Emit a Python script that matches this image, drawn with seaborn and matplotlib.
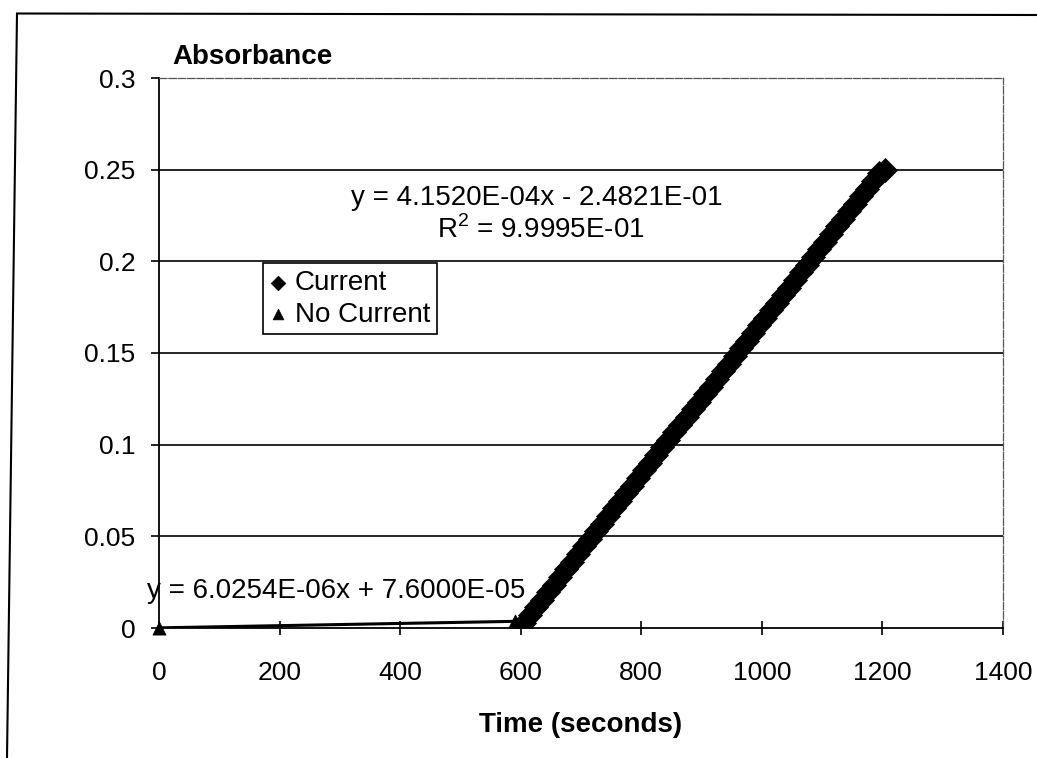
import matplotlib
matplotlib.use("Agg")
import matplotlib.pyplot as plt
from matplotlib.lines import Line2D
import seaborn as sns

# Current series (time in s, absorbance)
current_time = [605, 615, 625, 635, 645, 655, 665, 675, 685, 695,
                705, 715, 725, 735, 745, 755, 765, 775, 785, 795,
                805, 815, 825, 835, 845, 855, 865, 875, 885, 895,
                905, 915, 925, 935, 945, 955, 965, 975, 985, 995,
                1005, 1015, 1025, 1035, 1045, 1055, 1065, 1075, 1085, 1095,
                1105, 1115, 1125, 1135, 1145, 1155, 1165, 1175, 1185, 1195,
                1205]
current_abs = [0.0030, 0.0071, 0.0113, 0.0154, 0.0196, 0.0237, 0.0279, 0.0320, 0.0362, 0.0403,
               0.0445, 0.0486, 0.0528, 0.0570, 0.0611, 0.0653, 0.0694, 0.0736, 0.0777, 0.0819,
               0.0860, 0.0902, 0.0943, 0.0985, 0.1026, 0.1068, 0.1110, 0.1151, 0.1193, 0.1234,
               0.1276, 0.1317, 0.1359, 0.1400, 0.1442, 0.1483, 0.1525, 0.1566, 0.1608, 0.1650,
               0.1691, 0.1733, 0.1774, 0.1816, 0.1857, 0.1899, 0.1940, 0.1982, 0.2023, 0.2065,
               0.2106, 0.2148, 0.2190, 0.2231, 0.2273, 0.2314, 0.2356, 0.2397, 0.2439, 0.2480,
               0.2500]

# No-current series
nocurrent_time = [0, 590]
nocurrent_abs = [0.000076, 0.00363]

x_ticks = [0, 200, 400, 600, 800, 1000, 1200, 1400]
y_ticks = [0, 0.05, 0.1, 0.15, 0.2, 0.25, 0.3]
y_tick_labels = ["0", "0.05", "0.1", "0.15", "0.2", "0.25", "0.3"]

eq_current = "y = 4.1520E-04x - 2.4821E-01"
r2_current = "R$^2$ = 9.9995E-01"
eq_nocurrent = "y = 6.0254E-06x + 7.6000E-05"

W, H = 1037, 758

sns.set_theme(style="white")
plt.rcParams["font.family"] = ["Liberation Sans", "DejaVu Sans"]
plt.rcParams.update({
    "text.color": "black",
    "axes.labelcolor": "black",
    "xtick.color": "black",
    "ytick.color": "black",
    "mathtext.fontset": "custom",
    "mathtext.rm": "Liberation Sans",
})

fig = plt.figure(figsize=(W / 100, H / 100), dpi=100)
fig.patch.set_facecolor("white")


def fx(px):
    return px / W


def fy(py):
    return 1 - py / H


ax = fig.add_axes([fx(159), fy(628), fx(1003) - fx(159), fy(78) - fy(628)])

# trendlines
sns.regplot(x=current_time, y=current_abs, scatter=False, ci=None, truncate=True,
            color="black", line_kws={"lw": 2}, ax=ax)
sns.regplot(x=nocurrent_time, y=nocurrent_abs, scatter=False, ci=None, truncate=True,
            color="black", line_kws={"lw": 2.2}, ax=ax)

sns.scatterplot(x=current_time, y=current_abs, marker="D", s=150, color="black",
                edgecolor="black", linewidth=0.5, ax=ax, label="Current", zorder=4)
sns.scatterplot(x=nocurrent_time, y=nocurrent_abs, marker="^", s=90, color="black",
                edgecolor="black", linewidth=0.5, ax=ax, label="No Current", zorder=4,
                clip_on=False)

ax.set_xlim(0, 1400)
ax.set_ylim(0, 0.3)
ax.set_xticks(x_ticks)
ax.set_xticklabels([str(t) for t in x_ticks])
ax.set_yticks(y_ticks)
ax.set_yticklabels(y_tick_labels)

for yv in y_ticks[1:-1]:
    ax.axhline(yv, color="black", lw=1.2, zorder=1)

for side in ["left", "bottom"]:
    ax.spines[side].set_color("black")
    ax.spines[side].set_linewidth(1.3)
for side in ["top", "right"]:
    ax.spines[side].set_color("#555555")
    ax.spines[side].set_linewidth(0.9)
    ax.spines[side].set_linestyle((0, (6, 1.5)))

ax.tick_params(axis="y", direction="out", length=6, width=1.2, color="black",
               labelsize=19, pad=11, left=True)
ax.tick_params(axis="x", direction="inout", length=10, width=1.2, color="black",
               labelsize=19, pad=19, bottom=True)
ax.set_xlabel("Time (seconds)", fontsize=20, fontweight="bold", labelpad=19)
ax.set_ylabel("")

leg = ax.legend(loc="upper left", bbox_to_anchor=((263 - 159) / 844, (628 - 263) / 550),
                bbox_transform=ax.transAxes, frameon=True, fancybox=False,
                edgecolor="black", framealpha=1, fontsize=20, borderaxespad=0,
                handlelength=0.6, handletextpad=0.3, borderpad=0.25, labelspacing=0.2)
leg.get_frame().set_linewidth(1.2)
for handle, size in zip(leg.legend_handles, [55, 60]):
    handle.set_sizes([size])

fig.text(fx(172), fy(64), "Absorbance", fontsize=20, fontweight="bold",
         ha="left", va="baseline")
fig.text(fx(537), fy(205), eq_current, fontsize=20, ha="center", va="baseline")
fig.text(fx(541), fy(238), r2_current, fontsize=20, ha="center", va="baseline")
fig.text(fx(147), fy(598), eq_nocurrent, fontsize=20, ha="left", va="baseline")

# outer chart border (partly cut off by the scan)
fig.add_artist(Line2D([fx(17), fx(1037)], [fy(13.5), fy(15)], color="black", lw=1.5))
fig.add_artist(Line2D([fx(17), fx(7)], [fy(13.5), fy(758)], color="black", lw=1.5))

fig.savefig("out.png", dpi=100)
